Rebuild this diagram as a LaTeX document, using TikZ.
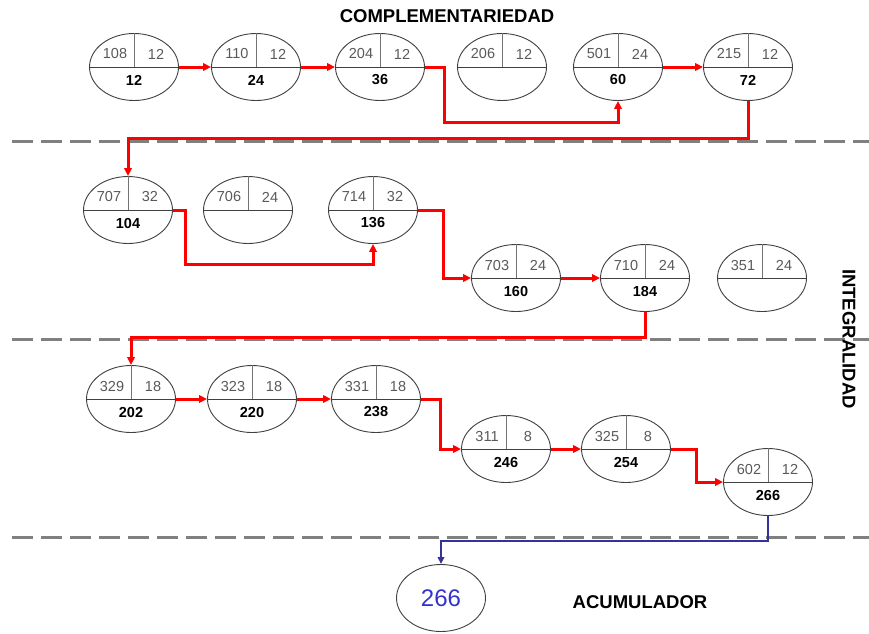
\documentclass[tikz,border=0pt]{standalone}
\usepackage{fontspec}
\setmainfont{Liberation Sans}
\usepackage{tikz}
\usetikzlibrary{calc}
\usetikzlibrary{shapes.geometric}
\usetikzlibrary{arrows.meta}
\definecolor{flowred}{RGB}{255,0,0}
\definecolor{accblue}{RGB}{51,51,153}
\definecolor{numblue}{RGB}{51,51,204}
\definecolor{sepgray}{RGB}{128,128,128}
\tikzset{
  actv/.style={ellipse,draw=black!75,line width=0.9pt,minimum width=89pt,minimum height=67pt,inner sep=0pt},
  divv/.style={draw=black!55,line width=0.9pt},
  divh/.style={draw=black!75,line width=0.9pt},
  topnum/.style={text=black!65,font=\fontsize{14.5}{16}\selectfont,inner sep=0pt},
  accnum/.style={text=black,font=\fontsize{14.5}{16}\selectfont\bfseries,inner sep=0pt},
  title/.style={font=\fontsize{18.5}{20}\selectfont\bfseries,inner sep=0pt},
  sepline/.style={draw=sepgray,line width=3pt,dash pattern=on 21pt off 8pt},
  flow/.style={draw=flowred,line width=3pt,-{Triangle[length=8pt,width=7.5pt]}},
  flowacc/.style={draw=accblue,line width=2.3pt,-{Triangle[length=7pt,width=6.5pt]}}
}
% name, x, y, code, duration, accumulated
\newcommand{\act}[6]{
  \node[actv] (#1) at (#2,#3) {};
  \draw[divv] (#1.north) -- (#1.center);
  \draw[divh] (#1.west) -- (#1.east);
  \node[topnum] (#1c) at ($(#1.center)+(-19,-13)$) {#4};
  \node[topnum] (#1d) at ($(#1.center)+(22,-13)$) {#5};
  \node[accnum] (#1a) at ($(#1.center)+(0,13)$) {#6};
}
\begin{document}
\begin{tikzpicture}[x=1pt,y=-1pt]
        \useasboundingbox (0,0) rectangle (869,633);
        % separators
        \draw[sepline] (12,141) -- (869,141);
        \draw[sepline] (12,339) -- (869,339);
        \draw[sepline] (12,537) -- (869,537);
        % titles
        \node[title] (tcomp) at (447,16) {COMPLEMENTARIEDAD};
        \node[title,rotate=-90] (tint) at (849,339) {INTEGRALIDAD};
        \node[title] (tacum) at (640,602) {ACUMULADOR};
        % row 1
        \act{n108}{134}{67}{108}{12}{12}
        \act{n110}{256}{67}{110}{12}{24}
        \act{n204}{380}{67}{204}{12}{36}
        \act{n206}{502}{67}{206}{12}{}
        \act{n501}{618}{67}{501}{24}{60}
        \act{n215}{748}{67}{215}{12}{72}
        % row 2
        \act{n707}{128}{210}{707}{32}{104}
        \act{n706}{248}{210}{706}{24}{}
        \act{n714}{373}{210}{714}{32}{136}
        \act{n703}{516}{278}{703}{24}{160}
        \act{n710}{645}{278}{710}{24}{184}
        \act{n351}{762}{278}{351}{24}{}
        % row 3
        \act{n329}{131}{399}{329}{18}{202}
        \act{n323}{252}{399}{323}{18}{220}
        \act{n331}{376}{399}{331}{18}{238}
        \act{n311}{506}{449}{311}{8}{246}
        \act{n325}{626}{449}{325}{8}{254}
        \act{n602}{768}{482}{602}{12}{266}
        % accumulator
        \node[actv] (acc) at (441,598) {};
        \node[text=numblue,font=\fontsize{24}{26}\selectfont,inner sep=0pt] (acct) at (acc.center) {266};
        % critical path
        \draw[flow] (n108.east) -- (n110.west);
        \draw[flow] (n110.east) -- (n204.west);
        \draw[flow] (n204.east) -- ++(20,0) |- ($(n501.south)+(0,22)$) -- (n501.south);
        \draw[flow] (n501.east) -- (n215.west);
        \draw[flow] (n215.south) -- ++(0,38) -| (n707.north);
        \draw[flow] (n707.east) -- ++(13,0) |- ($(n714.south)+(0,21)$) -- (n714.south);
        \draw[flow] (n714.east) -- ++(26,0) |- (n703.west);
        \draw[flow] (n703.east) -- (n710.west);
        \draw[flow] (n710.south) -- ++(0,26) -| (n329.north);
        \draw[flow] (n329.east) -- (n323.west);
        \draw[flow] (n323.east) -- (n331.west);
        \draw[flow] (n331.east) -- ++(20,0) |- (n311.west);
        \draw[flow] (n311.east) -- (n325.west);
        \draw[flow] (n325.east) -- ++(26,0) |- (n602.west);
        \draw[flowacc] (n602.south) -- ++(0,25) -| (acc.north);
    \end{tikzpicture}
\end{document}
